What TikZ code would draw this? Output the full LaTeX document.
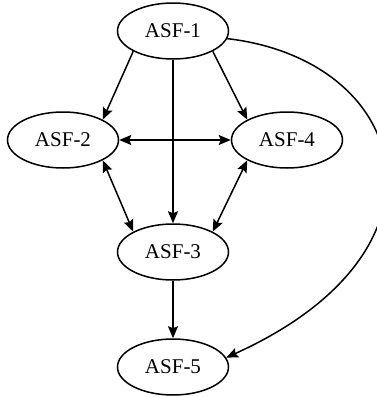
\documentclass[tikz,border=0pt]{standalone}
\usepackage{fontspec}
\setmainfont{Liberation Serif}
\usetikzlibrary{arrows.meta,shapes.geometric}
\begin{document}
\begin{tikzpicture}[x=1pt, y=-1pt,
    asf/.style={draw, ellipse, line width=1.5pt, minimum width=111pt, minimum height=56pt, inner sep=0pt, font=\fontsize{21}{25}\selectfont},
    tip/.tip={Stealth[length=12pt,width=10pt,inset=2pt]},
    link/.style={line width=1.5pt, -tip},
    twoway/.style={line width=1.5pt, tip-tip}]

  \useasboundingbox (0,0) rectangle (377,397);

  % The five nodes
  \node[asf] (a1) at (173,31) {ASF-1};
  \node[asf] (a2) at (63,140) {ASF-2};
  \node[asf] (a4) at (287,140) {ASF-4};
  \node[asf] (a3) at (173,252) {ASF-3};
  \node[asf] (a5) at (173,367) {ASF-5};

  % One-way links
  \draw[link] (a1.south west) -- (a2.north east);
  \draw[link] (a1.south east) -- (a4.north west);
  \draw[link] (a1.south) -- (a3.north);
  \draw[link] (a3.south) -- (a5.north);

  % Two-way links
  \draw[twoway] (a2.east) -- (a4.west);
  \draw[twoway] (a2.south east) -- (a3.north west);
  \draw[twoway] (a4.south west) -- (a3.north east);

  % Long curve ASF-1 to ASF-5
  \draw[link] (a1.-8) .. controls (410,60) and (465,250) .. (a5.10);
\end{tikzpicture}
\end{document}
